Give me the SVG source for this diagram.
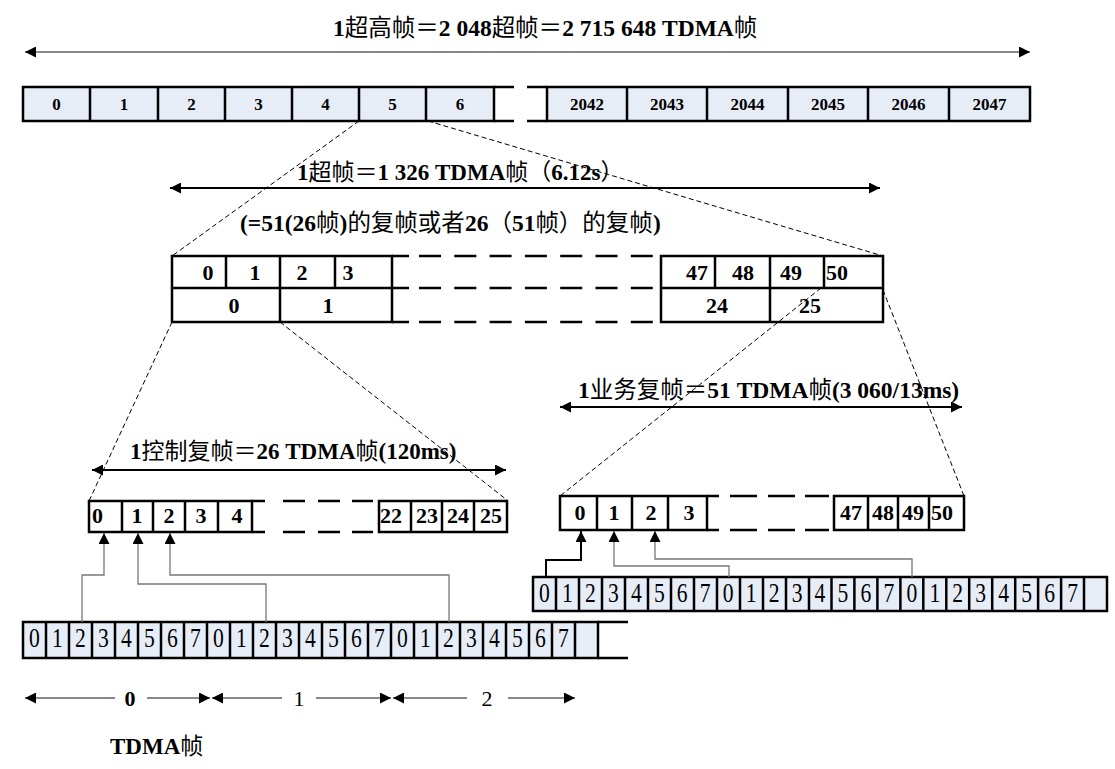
<svg xmlns="http://www.w3.org/2000/svg" width="1115" height="769" viewBox="0 0 1115 769">
<style>
.t{font-family:"Liberation Serif","Noto Sans CJK SC",serif;font-weight:bold;fill:#000}
.cj{font-family:"Noto Sans CJK SC","Liberation Serif",sans-serif;font-weight:normal}
.lb{font-family:"Liberation Serif",serif;font-weight:bold;font-size:22px;text-anchor:middle}
.lbs{font-family:"Liberation Serif",serif;font-weight:bold;font-size:17px;text-anchor:middle}
.dg{font-family:"Liberation Serif",serif;font-weight:normal;font-size:27px;text-anchor:middle}
.box{fill:#e6edf7;stroke:#000;stroke-width:2.5}
.wbox{fill:#fff;stroke:#000;stroke-width:2.5}
.ln{stroke:#000;stroke-width:2.5;fill:none}
.dash{stroke:#000;stroke-width:1;stroke-dasharray:5 3;fill:none}
.conn{stroke:#777;stroke-width:1.3;fill:none}
.garr{stroke:#888;stroke-width:2;fill:none}
.barr{stroke:#000;stroke-width:2;fill:none}
</style>
<defs>
<marker id="ah" viewBox="0 0 10 10" refX="10" refY="5" markerWidth="13" markerHeight="11" markerUnits="userSpaceOnUse" orient="auto-start-reverse"><path d="M0,0 L10,5 L0,10 z" fill="#000"/></marker>
</defs>

<g id="title-top">
<text class="t" x="333" y="36" font-size="23.5">1<tspan class="cj">超高帧＝</tspan>2 048<tspan class="cj">超帧＝</tspan>2 715 648 TDMA<tspan class="cj">帧</tspan></text>
</g>

<g id="hyperframe">
<rect class="box" x="23" y="87" width="471" height="34"/>
<path class="ln" d="M90,87V121M158,87V121M225,87V121M292,87V121M359,87V121M426,87V121"/>
<path class="ln" d="M494,87H514M494,121H514M527,87H547M527,121H547"/>
<rect class="box" x="547" y="87" width="483" height="34"/>
<path class="ln" d="M627,87V121M707,87V121M788,87V121M868,87V121M949,87V121"/>
<text class="lbs" x="56.5" y="110">0</text>
<text class="lbs" x="124" y="110">1</text>
<text class="lbs" x="191.5" y="110">2</text>
<text class="lbs" x="258.5" y="110">3</text>
<text class="lbs" x="325.5" y="110">4</text>
<text class="lbs" x="392.5" y="110">5</text>
<text class="lbs" x="460" y="110">6</text>
<text class="lbs" x="587" y="110">2042</text>
<text class="lbs" x="667" y="110">2043</text>
<text class="lbs" x="747.5" y="110">2044</text>
<text class="lbs" x="828" y="110">2045</text>
<text class="lbs" x="908.5" y="110">2046</text>
<text class="lbs" x="989.5" y="110">2047</text>
</g>

<g id="superframe-labels">
<text class="t" x="297" y="180" font-size="23">1<tspan class="cj">超帧＝</tspan>1 326 TDMA<tspan class="cj">帧（</tspan>6.12s<tspan class="cj">）</tspan></text>
<text class="t" x="240" y="231" font-size="23.5">(=51(26<tspan class="cj">帧</tspan>)<tspan class="cj">的复帧或者</tspan>26<tspan class="cj">（</tspan>51<tspan class="cj">帧）的复帧</tspan>)</text>
</g>

<g id="superframe">
<rect class="wbox" x="172" y="256" width="220" height="66"/>
<path class="ln" d="M172,288H392M226,256V288M335,256V288M280,256V322"/>
<rect class="wbox" x="661" y="256" width="222" height="66"/>
<path class="ln" d="M661,288H883M715,256V288M824,256V288M770,256V322"/>
<path class="ln" d="M392,256H409M392,288H409M392,322H409"/>
<path class="ln" stroke-dasharray="22 13.3" d="M419,256H653M419,288H653M419,322H653"/>
<text class="lb" x="208" y="280">0</text>
<text class="lb" x="255" y="280">1</text>
<text class="lb" x="302" y="280">2</text>
<text class="lb" x="348" y="280">3</text>
<text class="lb" x="234" y="313">0</text>
<text class="lb" x="328" y="313">1</text>
<text class="lb" x="697" y="280">47</text>
<text class="lb" x="743" y="280">48</text>
<text class="lb" x="791" y="280">49</text>
<text class="lb" x="826" y="280" style="text-anchor:start">50</text>
<text class="lb" x="717" y="313">24</text>
<text class="lb" x="810" y="313">25</text>
</g>

<g id="control-label">
<text class="t" x="130" y="459" font-size="23">1<tspan class="cj">控制复帧＝</tspan>26 TDMA<tspan class="cj">帧</tspan>(120ms)</text>
</g>

<g id="control-multiframe">
<rect class="wbox" x="89" y="501" width="163" height="31"/>
<path class="ln" d="M122,501V532M153,501V532M185,501V532M218,501V532"/>
<rect class="wbox" x="379" y="501" width="128" height="31"/>
<path class="ln" d="M411,501V532M442,501V532M474,501V532"/>
<path class="ln" d="M252,501H265M252,532H265M283,501H305M283,532H305M318,501H340M318,532H340M352,501H373M352,532H373"/>
<text class="lb" x="92" y="523" style="text-anchor:start">0</text>
<text class="lb" x="137" y="523">1</text>
<text class="lb" x="169" y="523">2</text>
<text class="lb" x="201" y="523">3</text>
<text class="lb" x="237" y="523">4</text>
<text class="lb" x="380" y="523" style="text-anchor:start">22</text>
<text class="lb" x="427" y="523">23</text>
<text class="lb" x="458" y="523">24</text>
<text class="lb" x="491" y="523">25</text>
</g>

<g id="traffic-label">
<text class="t" x="578" y="398" font-size="23.5">1<tspan class="cj">业务复帧＝</tspan>51 TDMA<tspan class="cj">帧</tspan>(3 060/13ms)</text>
</g>

<g id="traffic-multiframe">
<rect class="wbox" x="560" y="496" width="147" height="34"/>
<path class="ln" d="M597,496V530M632,496V530M668,496V530"/>
<rect class="wbox" x="834" y="496" width="130" height="34"/>
<path class="ln" d="M868,496V530M898,496V530M929,496V530"/>
<path class="ln" d="M707,496H719M707,530H719M730,496H757M730,530H757M768,496H795M768,530H795M805,496H829M805,530H829"/>
<text class="lb" x="580" y="520">0</text>
<text class="lb" x="614" y="520">1</text>
<text class="lb" x="651" y="520">2</text>
<text class="lb" x="689" y="520">3</text>
<text class="lb" x="851" y="520">47</text>
<text class="lb" x="883" y="520">48</text>
<text class="lb" x="913" y="520">49</text>
<text class="lb" x="931" y="520" style="text-anchor:start">50</text>
</g>

<g id="tdma-left">
<rect class="box" x="23" y="622" width="575" height="36"/>
<path class="ln" d="M46,622V658M69,622V658M92,622V658M115,622V658M138,622V658M161,622V658M184,622V658M207,622V658M230,622V658M253,622V658M276,622V658M299,622V658M322,622V658M345,622V658M368,622V658M391,622V658M414,622V658M437,622V658M460,622V658M483,622V658M506,622V658M529,622V658M552,622V658M575,622V658"/>
<path class="ln" d="M598,622H628M598,658H628"/>
<g transform="scale(0.8,1)">
<text class="dg" x="43.1" y="647">0</text><text class="dg" x="71.9" y="647">1</text><text class="dg" x="100.6" y="647">2</text><text class="dg" x="129.4" y="647">3</text><text class="dg" x="158.1" y="647">4</text><text class="dg" x="186.9" y="647">5</text><text class="dg" x="215.6" y="647">6</text><text class="dg" x="244.4" y="647">7</text>
<text class="dg" x="273.1" y="647">0</text><text class="dg" x="301.9" y="647">1</text><text class="dg" x="330.6" y="647">2</text><text class="dg" x="359.4" y="647">3</text><text class="dg" x="388.1" y="647">4</text><text class="dg" x="416.9" y="647">5</text><text class="dg" x="445.6" y="647">6</text><text class="dg" x="474.4" y="647">7</text>
<text class="dg" x="503.1" y="647">0</text><text class="dg" x="531.9" y="647">1</text><text class="dg" x="560.6" y="647">2</text><text class="dg" x="589.4" y="647">3</text><text class="dg" x="618.1" y="647">4</text><text class="dg" x="646.9" y="647">5</text><text class="dg" x="675.6" y="647">6</text><text class="dg" x="704.4" y="647">7</text>
</g>
</g>

<g id="tdma-right">
<rect class="box" x="533" y="577" width="574" height="34"/>
<path class="ln" d="M556,577V611M579,577V611M602,577V611M625,577V611M648,577V611M671,577V611M694,577V611M717,577V611M740,577V611M763,577V611M786,577V611M809,577V611M831.5,577V611M854.4,577V611M877.4,577V611M900.4,577V611M923.3,577V611M946.3,577V611M969.2,577V611M992.2,577V611M1015.2,577V611M1038.1,577V611M1061.1,577V611M1084,577V611"/>
<g transform="scale(0.8,1)">
<text class="dg" x="680.6" y="602">0</text><text class="dg" x="709.3" y="602">1</text><text class="dg" x="738" y="602">2</text><text class="dg" x="766.7" y="602">3</text><text class="dg" x="795.4" y="602">4</text><text class="dg" x="824.1" y="602">5</text><text class="dg" x="852.8" y="602">6</text><text class="dg" x="881.5" y="602">7</text>
<text class="dg" x="910.2" y="602">0</text><text class="dg" x="938.9" y="602">1</text><text class="dg" x="967.6" y="602">2</text><text class="dg" x="996.3" y="602">3</text><text class="dg" x="1025" y="602">4</text><text class="dg" x="1053.7" y="602">5</text><text class="dg" x="1082.4" y="602">6</text><text class="dg" x="1111.1" y="602">7</text>
<text class="dg" x="1139.8" y="602">0</text><text class="dg" x="1168.5" y="602">1</text><text class="dg" x="1197.2" y="602">2</text><text class="dg" x="1225.9" y="602">3</text><text class="dg" x="1254.6" y="602">4</text><text class="dg" x="1283.3" y="602">5</text><text class="dg" x="1312" y="602">6</text><text class="dg" x="1340.7" y="602">7</text>
</g>
</g>

<g id="tdma-scale">
<text class="t" x="110" y="754" font-size="23">TDMA<tspan class="cj">帧</tspan></text>
<text x="130" y="706" font-family="Liberation Serif, serif" font-weight="bold" font-size="22" text-anchor="middle">0</text>
<text x="299" y="706" font-family="Liberation Serif, serif" font-size="22" text-anchor="middle">1</text>
<text x="487" y="706" font-family="Liberation Serif, serif" font-size="22" text-anchor="middle">2</text>
</g>

<g id="connectors">
<line class="garr" x1="25" y1="52" x2="1030" y2="52" marker-start="url(#ah)" marker-end="url(#ah)"/>
<line class="barr" x1="170" y1="188" x2="880" y2="188" marker-start="url(#ah)" marker-end="url(#ah)"/>
<line class="barr" x1="92" y1="470" x2="506" y2="470" stroke-width="1.5" marker-start="url(#ah)" marker-end="url(#ah)"/>
<line class="barr" x1="560" y1="407" x2="962" y2="407" stroke-width="1.5" marker-start="url(#ah)" marker-end="url(#ah)"/>
<path class="dash" d="M359,121L172,256M428,121L883,256M172,322L89,501M280,322L507,500M821,288L560,496M883,290L964,496"/>
<path class="conn" d="M82,622V575H104V533" marker-end="url(#ah)"/>
<path class="conn" d="M266,622V584H138V533" marker-end="url(#ah)"/>
<path class="conn" d="M449,622V575H170V533" marker-end="url(#ah)"/>
<path d="M546,577V560H581V531" stroke="#000" stroke-width="2" fill="none" marker-end="url(#ah)"/>
<path class="conn" d="M729,577V566H614V531" marker-end="url(#ah)"/>
<path class="conn" d="M912,577V559H655V531" marker-end="url(#ah)"/>
<line class="garr" x1="25" y1="698" x2="115" y2="698" stroke-width="1.5" marker-start="url(#ah)"/>
<line class="garr" x1="147" y1="698" x2="210" y2="698" stroke-width="1.5" marker-end="url(#ah)"/>
<line class="garr" x1="212" y1="698" x2="282" y2="698" stroke-width="1.5" marker-start="url(#ah)"/>
<line class="garr" x1="316" y1="698" x2="391" y2="698" stroke-width="1.5" marker-end="url(#ah)"/>
<line class="garr" x1="393" y1="698" x2="467" y2="698" stroke-width="1.5" marker-start="url(#ah)"/>
<line class="garr" x1="508" y1="698" x2="575" y2="698" stroke-width="1.5" marker-end="url(#ah)"/>
</g>
</svg>
